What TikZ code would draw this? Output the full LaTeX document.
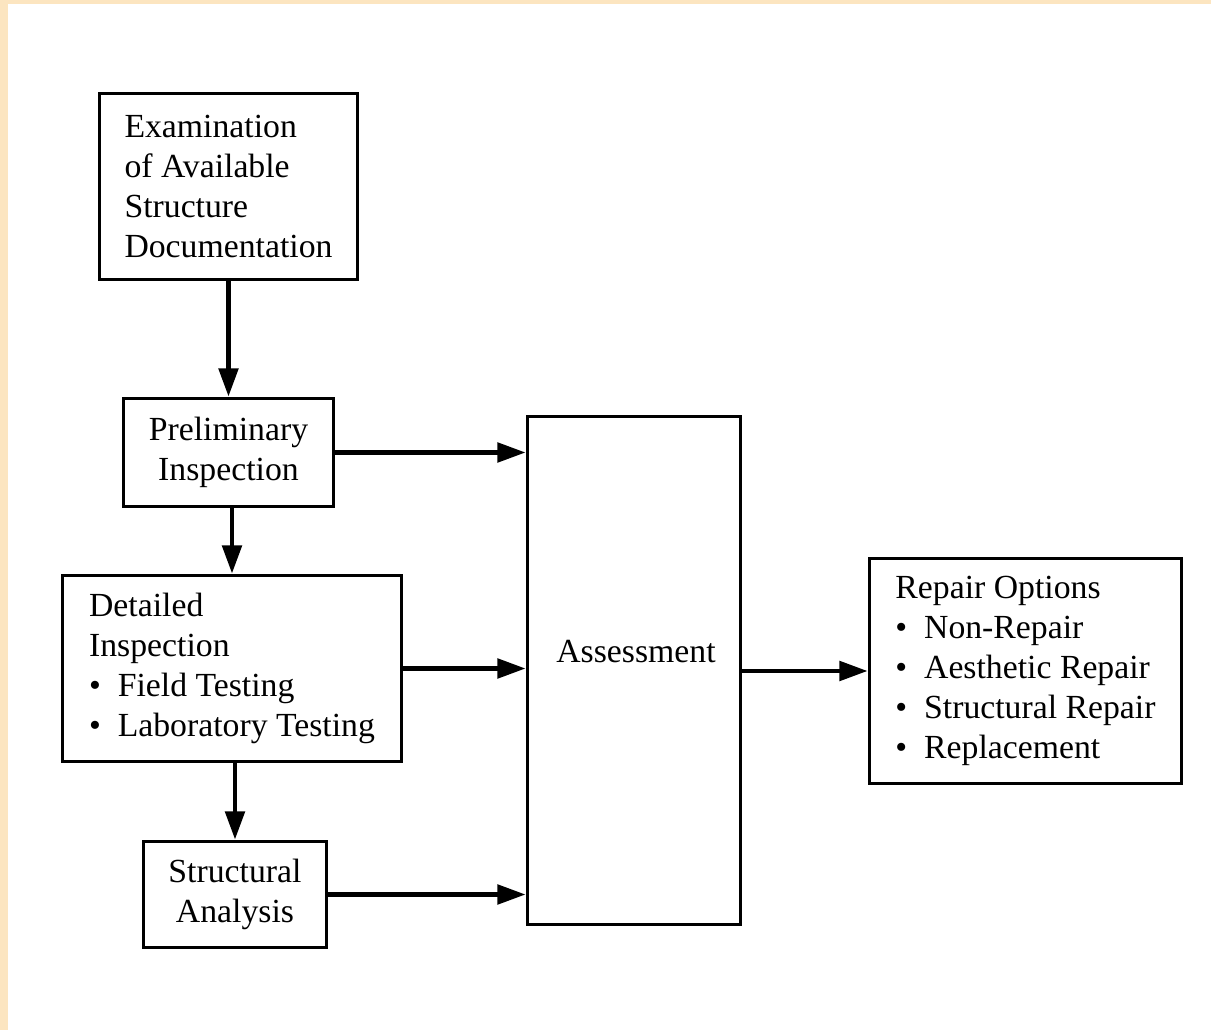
\documentclass[tikz,border=0pt]{standalone}
\usepackage{fontspec}
\setmainfont{Liberation Serif}
\usetikzlibrary{arrows.meta,positioning}
\definecolor{scanbeige}{RGB}{252,229,192}
\tikzset{
  box/.style={draw, line width=1.7pt, inner sep=0pt, font=\fontsize{19.2}{22.7}\selectfont},
  flow/.style={line width=2.4pt, -{Triangle[length=16pt,width=11pt]}}
}
\newcommand{\itm}{\textbullet\hspace{0.5em}}

\begin{document}
\begin{tikzpicture}[x=0.02cm, y=-0.02cm]
            % the page with its tinted edge
            \useasboundingbox (0,0) rectangle (1211,1030);
            \fill[scanbeige] (0,0) rectangle (1211,1030);
            \fill[white] (8,4) rectangle (1211,1030);

            % the boxes
            \node[box, minimum width=5.18cm, minimum height=3.74cm, align=left] (exam) at (228.5,186.5)
              {Examination\\of Available\\Structure\\Documentation};
            \node[box, minimum width=4.22cm, minimum height=2.18cm, align=center] (prelim) at (228.5,452.5)
              {Preliminary\\Inspection};
            \node[box, minimum width=6.8cm, minimum height=3.74cm, align=left] (detailed) at (232,668.5)
              {Detailed\\Inspection\\\itm Field Testing\\\itm Laboratory Testing};
            \node[box, minimum width=3.68cm, minimum height=2.14cm, align=center] (structural) at (235,894.5)
              {Structural\\Analysis};
            \node[box, minimum width=4.28cm, minimum height=10.18cm] (assess) at (634,670.5) {};
            \node[font=\fontsize{19.2}{22.7}\selectfont] (assesstext) at (636,652) {Assessment};
            \node[box, minimum width=6.26cm, minimum height=4.52cm, align=left] (repair) at (1025.5,671)
              {Repair Options\\\itm Non-Repair\\\itm Aesthetic Repair\\\itm Structural Repair\\\itm Replacement};

            % the arrows
            \draw[flow] (prelim.north |- exam.south) -- (prelim.north);
            \draw[flow] (detailed.north |- prelim.south) -- (detailed.north);
            \draw[flow] (structural.north |- detailed.south) -- (structural.north);
            \draw[flow] (prelim.east) -- (prelim.east -| assess.west);
            \draw[flow] (detailed.east) -- (detailed.east -| assess.west);
            \draw[flow] (structural.east) -- (structural.east -| assess.west);
            \draw[flow] (assess.east |- repair.west) -- (repair.west);
\end{tikzpicture}
\end{document}
